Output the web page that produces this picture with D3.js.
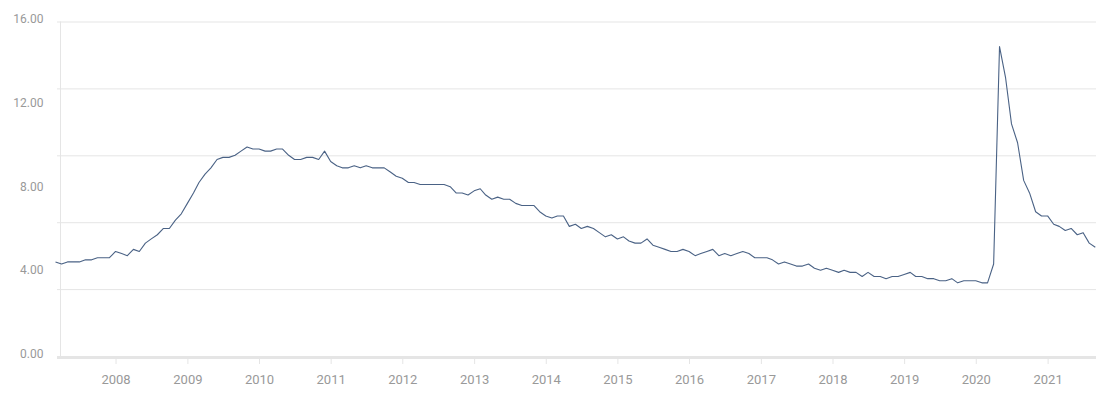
<!DOCTYPE html>
<html>
<head>
<meta charset="utf-8">
<script src="https://cdn.jsdelivr.net/npm/d3@7"></script>
<style>
  html, body { margin: 0; padding: 0; background: #ffffff; }
  svg { display: block; font-family: Roboto, "Noto Sans", sans-serif; }
</style>
</head>
<body>
<svg id="chart" width="1117" height="407"></svg>
<script>
// ---- data (monthly values, first month = Feb 2007) ----
const firstMonth = "2007-02";
const values2007 = [4.5, 4.4, 4.5, 4.5, 4.5, 4.6, 4.6, 4.7, 4.7, 4.7, 5.0];
const values2008 = [4.9, 4.8, 5.1, 5.0, 5.4, 5.6, 5.8, 6.1, 6.1, 6.5, 6.8, 7.3];
const values2009 = [7.8, 8.3, 8.7, 9.0, 9.4, 9.5, 9.5, 9.6, 9.8, 10.0, 9.9, 9.9];
const values2010 = [9.8, 9.8, 9.9, 9.9, 9.6, 9.4, 9.4, 9.5, 9.5, 9.4, 9.8, 9.3];
const values2011 = [9.1, 9.0, 9.0, 9.1, 9.0, 9.1, 9.0, 9.0, 9.0, 8.8, 8.6, 8.5];
const values2012 = [8.3, 8.3, 8.2, 8.2, 8.2, 8.2, 8.2, 8.1, 7.8, 7.8, 7.7, 7.9];
const values2013 = [8.0, 7.7, 7.5, 7.6, 7.5, 7.5, 7.3, 7.2, 7.2, 7.2, 6.9, 6.7];
const values2014 = [6.6, 6.7, 6.7, 6.2, 6.3, 6.1, 6.2, 6.1, 5.9, 5.7, 5.8, 5.6];
const values2015 = [5.7, 5.5, 5.4, 5.4, 5.6, 5.3, 5.2, 5.1, 5.0, 5.0, 5.1, 5.0];
const values2016 = [4.8, 4.9, 5.0, 5.1, 4.8, 4.9, 4.8, 4.9, 5.0, 4.9, 4.7, 4.7];
const values2017 = [4.7, 4.6, 4.4, 4.5, 4.4, 4.3, 4.3, 4.4, 4.2, 4.1, 4.2, 4.1];
const values2018 = [4.0, 4.1, 4.0, 4.0, 3.8, 4.0, 3.8, 3.8, 3.7, 3.8, 3.8, 3.9];
const values2019 = [4.0, 3.8, 3.8, 3.7, 3.7, 3.6, 3.6, 3.7, 3.5, 3.6, 3.6, 3.6];
const values2020 = [3.5, 3.5, 4.4, 14.8, 13.3, 11.1, 10.2, 8.4, 7.8, 6.9, 6.7, 6.7];
const values2021 = [6.3, 6.2, 6.0, 6.1, 5.8, 5.9, 5.4, 5.2];

const xTickYears = [2008, 2009, 2010, 2011, 2012, 2013, 2014, 2015, 2016, 2017, 2018, 2019, 2020, 2021];
const yLabelValues = [0, 4, 8, 12, 16];
const yMax = 16;
const gridDivisions = 5;

// ---- build series ----
const values = [].concat(values2007, values2008, values2009, values2010, values2011,
  values2012, values2013, values2014, values2015, values2016, values2017, values2018,
  values2019, values2020, values2021);
const start = d3.utcParse("%Y-%m")(firstMonth);
// each monthly value is plotted at the end of its month
const data = values.map((v, i) => ({ date: d3.utcMonth.offset(start, i + 1), value: v }));

// ---- layout ----
const plotLeft = 60.5, plotRight = 1096, plotTop = 21.5, plotBottom = 356;
const svg = d3.select("#chart");

const x = d3.scaleUtc()
  .domain(d3.extent(data, d => d.date))
  .range([55.5, 1095.3]);
const y = d3.scaleLinear().domain([0, yMax]).range([plotBottom, plotTop]);

const gridColor = "#e5e5e5";
const textColor = "#999999";

// horizontal grid lines (with small outward ticks on the left)
const gridVals = d3.range(gridDivisions + 1).map(i => yMax * i / gridDivisions);
const grid = svg.append("g")
  .attr("transform", `translate(57,0)`)
  .call(d3.axisLeft(y).tickValues(gridVals).tickSize(-(plotRight - 57)).tickFormat(""));
grid.select(".domain").remove();
grid.selectAll(".tick line").attr("stroke", gridColor).attr("stroke-width", 1);

// vertical axis line
svg.append("line")
  .attr("x1", plotLeft).attr("x2", plotLeft)
  .attr("y1", plotTop).attr("y2", plotBottom)
  .attr("stroke", gridColor).attr("stroke-width", 1);

// y labels
const yAxis = svg.append("g")
  .attr("transform", `translate(${plotLeft},0)`)
  .call(d3.axisLeft(y).tickValues(yLabelValues).tickSize(0).tickPadding(17).tickFormat(d3.format(".2f")));
yAxis.select(".domain").remove();
yAxis.selectAll("text")
  .attr("fill", textColor)
  .attr("font-size", "12px")
  .attr("font-family", "Roboto, sans-serif")
  .attr("dy", "0.32em")
  .attr("y", -2.6);

// x axis
const xAxis = svg.append("g")
  .attr("transform", `translate(0,${plotBottom})`)
  .call(d3.axisBottom(x)
    .tickValues(xTickYears.map(yr => new Date(Date.UTC(yr, 0, 1))))
    .tickSize(8).tickPadding(11)
    .tickFormat(d3.utcFormat("%Y")));
xAxis.select(".domain").remove();
xAxis.selectAll(".tick line").attr("stroke", gridColor).attr("stroke-width", 1);
xAxis.selectAll("text")
  .attr("fill", textColor)
  .attr("font-size", "13px")
  .attr("font-family", "Roboto, sans-serif");

// thick bottom axis line
svg.append("line")
  .attr("x1", 57).attr("x2", plotRight)
  .attr("y1", plotBottom + 1.5).attr("y2", plotBottom + 1.5)
  .attr("stroke", gridColor).attr("stroke-width", 3);

// series line
const line = d3.line().x(d => x(d.date)).y(d => y(d.value));
svg.append("path")
  .datum(data)
  .attr("fill", "none")
  .attr("stroke", "#4a6285")
  .attr("stroke-width", 1.1)
  .attr("stroke-linejoin", "round")
  .attr("d", line);
</script>
</body>
</html>
